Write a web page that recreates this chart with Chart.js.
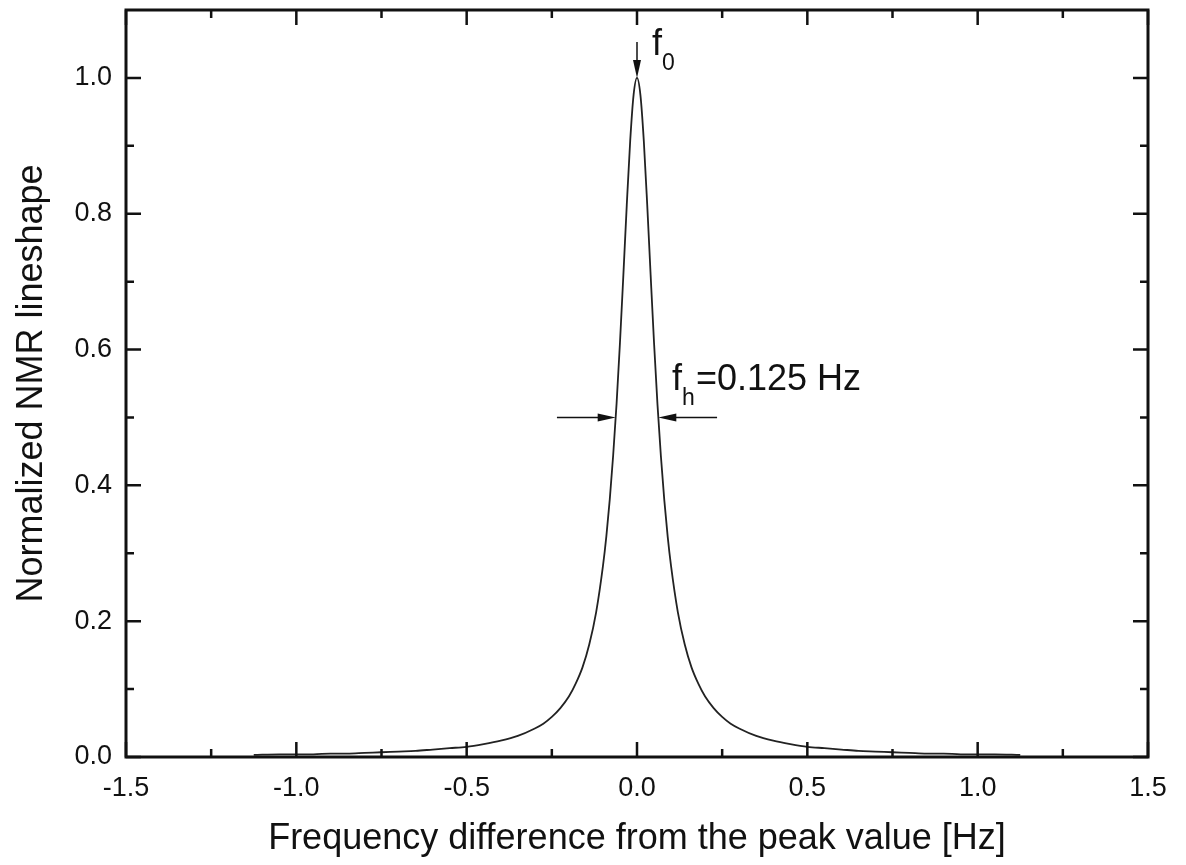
<!DOCTYPE html>
<html lang="en">

<head>
    <meta charset="UTF-8">
    <title>Normalized NMR lineshape</title>
    <script src="https://cdn.jsdelivr.net/npm/chart.js"></script>
    <style>
        body {
            margin: 0;
            background: #fff;
        }
    </style>
</head>

<body>
    <canvas id="shapeChart" width="1186" height="865"></canvas>
    <script>
        // values
        const freqHz = [-1.125, -1.05, -1.0, -0.95, -0.9, -0.85, -0.8, -0.75, -0.7, -0.65, -0.6, -0.55,
            -0.5, -0.45, -0.4, -0.35, -0.3, -0.275, -0.25, -0.225, -0.2, -0.18, -0.16, -0.14, -0.12,
            -0.1, -0.09, -0.08, -0.07, -0.06, -0.05, -0.04, -0.03, -0.02, -0.01, 0,
            0.01, 0.02, 0.03, 0.04, 0.05, 0.06, 0.07, 0.08, 0.09, 0.1,
            0.12, 0.14, 0.16, 0.18, 0.2, 0.225, 0.25, 0.275, 0.3, 0.35, 0.4, 0.45, 0.5,
            0.55, 0.6, 0.65, 0.7, 0.75, 0.8, 0.85, 0.9, 0.95, 1.0, 1.05, 1.125];
        const lineshape = [0.003, 0.004, 0.004, 0.004, 0.005, 0.005, 0.006, 0.007, 0.008, 0.009, 0.011, 0.013,
            0.015, 0.019, 0.024, 0.031, 0.042, 0.049, 0.059, 0.072, 0.089, 0.108, 0.132, 0.166, 0.213,
            0.281, 0.325, 0.379, 0.444, 0.520, 0.610, 0.710, 0.813, 0.907, 0.975, 1.000,
            0.975, 0.907, 0.813, 0.710, 0.610, 0.520, 0.444, 0.379, 0.325, 0.281,
            0.213, 0.166, 0.132, 0.108, 0.089, 0.072, 0.059, 0.049, 0.042, 0.031, 0.024, 0.019, 0.015,
            0.013, 0.011, 0.009, 0.008, 0.007, 0.006, 0.005, 0.005, 0.004, 0.004, 0.004, 0.003];

        const xTicks = [-1.5, -1.0, -0.5, 0.0, 0.5, 1.0, 1.5];
        const xMinorTicks = [-1.25, -0.75, -0.25, 0.25, 0.75, 1.25];
        const yTicks = [0.0, 0.2, 0.4, 0.6, 0.8, 1.0];
        const yMinorTicks = [0.1, 0.3, 0.5, 0.7, 0.9];

        // annotation anchors, in data units
        const peakArrow = { x: 0, from: 1.053, to: 1.0 };
        const halfWidthArrow = { y: 0.5, tip: 0.0625, tail: 0.235 };
        const peakNote = { x: 0.044, y: 1.034, main: 'f', sub: '0', rest: '' };
        const widthNote = { x: 0.103, y: 0.540, main: 'f', sub: 'h', rest: '=0.125 Hz' };

        const fontFamily = '"Liberation Sans", Arial, sans-serif';
        const ink = '#111';

        function arrowHead(ctx, tipX, tipY, dx, dy, len, half) {
            // dx, dy: unit direction the arrow points to
            const bx = tipX - dx * len, by = tipY - dy * len;
            ctx.beginPath();
            ctx.moveTo(tipX, tipY);
            ctx.lineTo(bx - dy * half, by + dx * half);
            ctx.lineTo(bx + dy * half, by - dx * half);
            ctx.closePath();
            ctx.fill();
        }

        function drawNote(ctx, px, py, note) {
            ctx.font = '36px ' + fontFamily;
            ctx.fillText(note.main, px, py);
            const w = ctx.measureText(note.main).width;
            ctx.font = '23px ' + fontFamily;
            ctx.fillText(note.sub, px + w, py + 15);
            const ws = ctx.measureText(note.sub).width;
            ctx.font = '36px ' + fontFamily;
            ctx.fillText(note.rest, px + w + ws + 1, py);
        }

        const frameAndNotes = {
            id: 'frameAndNotes',
            afterDraw(chart) {
                const { ctx, chartArea: a, scales: { x, y } } = chart;
                ctx.save();
                ctx.strokeStyle = ink;
                ctx.fillStyle = ink;

                // box
                ctx.lineWidth = 3;
                ctx.strokeRect(a.left, a.top, a.right - a.left, a.bottom - a.top);

                // inward ticks on all four sides
                ctx.lineWidth = 2.5;
                ctx.beginPath();
                const xTick = (v, len) => {
                    const p = x.getPixelForValue(v);
                    ctx.moveTo(p, a.bottom); ctx.lineTo(p, a.bottom - len);
                    ctx.moveTo(p, a.top); ctx.lineTo(p, a.top + len);
                };
                const yTick = (v, len) => {
                    const p = y.getPixelForValue(v);
                    ctx.moveTo(a.left, p); ctx.lineTo(a.left + len, p);
                    ctx.moveTo(a.right, p); ctx.lineTo(a.right - len, p);
                };
                xTicks.forEach(v => xTick(v, 15));
                xMinorTicks.forEach(v => xTick(v, 8));
                yTicks.forEach(v => yTick(v, 15));
                yMinorTicks.forEach(v => yTick(v, 8));
                ctx.stroke();

                // peak arrow
                ctx.lineWidth = 1.5;
                const px0 = x.getPixelForValue(peakArrow.x);
                const pyFrom = y.getPixelForValue(peakArrow.from);
                const pyTo = y.getPixelForValue(peakArrow.to);
                ctx.beginPath();
                ctx.moveTo(px0, pyFrom);
                ctx.lineTo(px0, pyTo - 10);
                ctx.stroke();
                arrowHead(ctx, px0, pyTo, 0, 1, 18, 4);

                // half width arrows
                const hy = y.getPixelForValue(halfWidthArrow.y);
                const lTip = x.getPixelForValue(-halfWidthArrow.tip);
                const lTail = x.getPixelForValue(-halfWidthArrow.tail);
                const rTip = x.getPixelForValue(halfWidthArrow.tip);
                const rTail = x.getPixelForValue(halfWidthArrow.tail);
                ctx.beginPath();
                ctx.moveTo(lTail, hy); ctx.lineTo(lTip - 10, hy);
                ctx.moveTo(rTail, hy); ctx.lineTo(rTip + 10, hy);
                ctx.stroke();
                arrowHead(ctx, lTip, hy, 1, 0, 18, 4);
                arrowHead(ctx, rTip, hy, -1, 0, 18, 4);

                // labels
                ctx.textAlign = 'left';
                ctx.textBaseline = 'alphabetic';
                drawNote(ctx, x.getPixelForValue(peakNote.x), y.getPixelForValue(peakNote.y), peakNote);
                drawNote(ctx, x.getPixelForValue(widthNote.x), y.getPixelForValue(widthNote.y), widthNote);

                ctx.restore();
            }
        };

        const points = freqHz.map((f, i) => ({ x: f, y: lineshape[i] }));

        const ctx = document.getElementById('shapeChart').getContext('2d');
        const shapeChart = new Chart(ctx, {
            type: 'line',
            data: {
                datasets: [{
                    label: 'lineshape',
                    data: points,
                    borderColor: '#222',
                    borderWidth: 1.8,
                    pointRadius: 0,
                    fill: false,
                    cubicInterpolationMode: 'monotone'
                }]
            },
            options: {
                responsive: false,
                animation: false,
                layout: { padding: { left: 0, top: 10, right: 38, bottom: 0 } },
                plugins: {
                    legend: { display: false },
                    tooltip: { enabled: false }
                },
                scales: {
                    x: {
                        type: 'linear',
                        min: -1.5,
                        max: 1.5,
                        afterBuildTicks: scale => { scale.ticks = xTicks.map(v => ({ value: v })); },
                        afterFit: scale => {
                            scale.height = 108;
                            scale.paddingLeft = 0;
                            scale.paddingRight = 0;
                        },
                        grid: { display: false, drawTicks: false },
                        border: { display: false },
                        ticks: {
                            padding: 15,
                            autoSkip: false,
                            maxRotation: 0,
                            color: ink,
                            font: { family: fontFamily, size: 27 },
                            callback: v => Number(v).toFixed(1)
                        },
                        title: {
                            display: true,
                            text: 'Frequency difference from the peak value [Hz]',
                            color: ink,
                            font: { family: fontFamily, size: 36 },
                            padding: { top: 0, bottom: 4 }
                        }
                    },
                    y: {
                        type: 'linear',
                        min: 0,
                        max: 1.1,
                        afterBuildTicks: scale => { scale.ticks = yTicks.map(v => ({ value: v })); },
                        afterFit: scale => {
                            scale.width = 126;
                            scale.paddingTop = 0;
                            scale.paddingBottom = 0;
                        },
                        grid: { display: false, drawTicks: false },
                        border: { display: false },
                        ticks: {
                            padding: 14,
                            autoSkip: false,
                            color: ink,
                            font: { family: fontFamily, size: 27 },
                            callback: v => Number(v).toFixed(1)
                        },
                        title: {
                            display: true,
                            text: 'Normalized NMR lineshape',
                            color: ink,
                            font: { family: fontFamily, size: 36 },
                            padding: { top: 10, bottom: 0 }
                        }
                    }
                }
            },
            plugins: [frameAndNotes]
        });
    </script>
</body>

</html>
